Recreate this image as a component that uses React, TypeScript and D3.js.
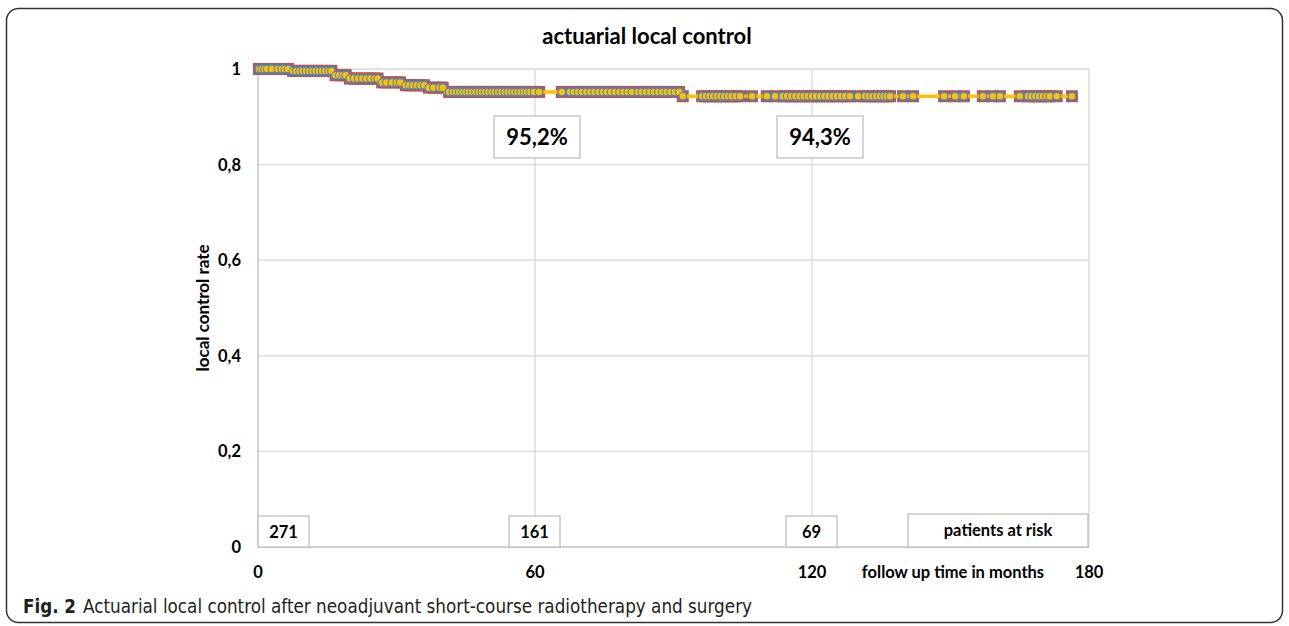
import React from "react";
import * as d3 from "d3";

// Kaplan-Meier event steps (months, local control after event)
const eventTimes = [0, 6.9, 16.3, 19.4, 26.2, 31.5, 36.5, 40.6, 91.8];
const eventValues = [1, 0.996, 0.987, 0.98, 0.972, 0.966, 0.961, 0.952, 0.943];

// censored observations (months)
const censorTimes = [
  0.2, 0.8, 1.4, 2.0, 3.0, 4.3, 5.1, 5.8, 6.5,
  7.6, 8.3, 9.0, 9.7, 10.4, 11.1, 11.8, 12.5, 13.2, 13.9, 14.6, 15.3, 15.9,
  16.8, 17.6, 18.4, 19.0,
  19.9, 20.8, 21.7, 22.6, 23.5, 24.4, 25.3, 25.9,
  26.9, 27.8, 29.0, 30.1, 30.8,
  32.0, 32.8, 33.6, 34.4, 35.2, 36.0,
  37.0, 38.0, 39.3, 40.0,
  41.4, 42.2, 42.9, 43.6, 44.3, 45.0, 45.7, 46.4, 47.1, 47.8, 48.5, 49.2, 49.9, 50.6,
  51.3, 52.0, 52.7, 53.4, 54.1, 54.8, 55.5, 56.2, 56.9, 57.6, 58.3, 59.0, 59.8, 60.9,
  65.8, 67.6, 68.4, 69.3, 70.2, 71.1, 72.0, 72.9, 73.8, 74.7, 75.6, 76.5, 77.4, 78.3,
  79.2, 80.1, 81.0, 82.3, 83.1, 84.0, 84.9, 85.8, 86.7, 87.6, 88.5, 89.4, 90.3, 91.2,
  92.0, 96.2, 97.0, 97.8, 98.6, 99.4, 100.2, 101.0, 101.8, 102.6, 103.5, 104.4,
  107.0, 110.2, 112.0, 113.7, 114.6, 115.5, 116.4, 117.3, 118.2, 119.1, 120.0, 120.9,
  121.8, 122.7, 123.6, 124.5, 125.4, 126.3, 127.2, 128.2, 130.0, 131.5, 132.3, 133.1,
  133.9, 134.7, 135.5, 136.2, 136.9, 139.7, 141.9,
  148.6, 151.0, 152.9,
  157.0, 159.2, 160.7,
  165.0, 166.8, 167.6, 168.4, 169.2, 170.0, 170.8, 171.5, 173.0,
  176.3,
];

const xTicks = [0, 60, 120, 180];
const xTickLabels = ["0", "60", "120", "180"];
const yTicks = [0, 0.2, 0.4, 0.6, 0.8, 1];
const yTickLabels = ["0", "0,2", "0,4", "0,6", "0,8", "1"];
const atRiskTimes = [0, 60, 120];
const atRiskCounts = ["271", "161", "69"];
const rateTimes = [60, 120];
const rateLabels = ["95,2%", "94,3%"];

const title = "actuarial local control";
const yTitle = "local control rate";
const xTitle = "follow up time in months";
const riskTitle = "patients at risk";
const captionBold = "Fig. 2";
const captionText = "Actuarial local control after neoadjuvant short-course radiotherapy and surgery";

const W = 1289;
const H = 626;
const FONT = "Lato, 'Open Sans', sans-serif";
const CAPFONT = "'Liberation Sans Narrow', 'DejaVu Sans Condensed', sans-serif";

export default function App() {
  const x = d3.scaleLinear().domain([0, 180]).range([258, 1089]);
  const y = d3.scaleLinear().domain([0, 1]).range([547, 69]);

  const valueAt = (t: number) => {
    let v = eventValues[0];
    for (let i = 0; i < eventTimes.length; i++) if (eventTimes[i] <= t) v = eventValues[i];
    return v;
  };

  const allTimes = Array.from(new Set([...eventTimes, ...censorTimes])).sort((a, b) => a - b);
  const linePts: [number, number][] = allTimes.map((t) => [t, valueAt(t)]);
  const line = d3
    .line<[number, number]>()
    .x((d) => x(d[0]))
    .y((d) => y(d[1]))
    .curve(d3.curveStepAfter);

  const grid = "#d9d9d9";
  const sq = 12;
  const lbl = 16.5;

  return (
    <svg
      width={W}
      height={H}
      style={{ position: "absolute", left: 0, top: 0, display: "block", background: "#fff" }}
    >
      <rect x={6.5} y={8.5} width={1276} height={614} rx={12} fill="#fff" stroke="#333" strokeWidth={1.5} />

      <text x={647} y={44} textAnchor="middle" fontFamily={FONT} fontWeight={700} fontSize={22} fill="#000">
        {title}
      </text>

      {/* gridlines */}
      {yTicks.filter((v) => v > 0).map((v) => (
        <line key={"gy" + v} x1={x(0)} x2={x(180)} y1={y(v)} y2={y(v)} stroke={grid} strokeWidth={1.3} />
      ))}
      {xTicks.filter((v) => v > 0).map((v) => (
        <line key={"gx" + v} x1={x(v)} x2={x(v)} y1={y(1)} y2={y(0)} stroke={grid} strokeWidth={1.3} />
      ))}
      <line x1={x(0)} x2={x(0)} y1={y(1)} y2={y(0)} stroke="#bfbfbf" strokeWidth={1.3} />
      <line x1={x(0)} x2={x(180)} y1={y(0)} y2={y(0)} stroke="#bfbfbf" strokeWidth={1.3} />

      {/* tick labels */}
      {yTicks.map((v, i) => (
        <text key={"yt" + v} x={241} y={y(v) + 6} textAnchor="end" fontFamily={FONT} fontWeight={700} fontSize={lbl} fill="#000">
          {yTickLabels[i]}
        </text>
      ))}
      {xTicks.map((v, i) => (
        <text key={"xt" + v} x={x(v)} y={578} textAnchor="middle" fontFamily={FONT} fontWeight={700} fontSize={lbl} fill="#000">
          {xTickLabels[i]}
        </text>
      ))}
      <text x={953} y={578} textAnchor="middle" fontFamily={FONT} fontWeight={700} fontSize={lbl} fill="#000">
        {xTitle}
      </text>
      <text
        transform={`translate(209,308) rotate(-90)`}
        textAnchor="middle"
        fontFamily={FONT}
        fontWeight={700}
        fontSize={17}
        fill="#000"
      >
        {yTitle}
      </text>

      {/* rate boxes */}
      {rateTimes.map((t, i) => (
        <g key={"rb" + t}>
          <rect x={x(t) - 43 + (i === 1 ? 8 : 2)} y={116} width={86} height={42} fill="#fff" stroke="#bfbfbf" strokeWidth={1.3} />
          <text x={x(t) + (i === 1 ? 8 : 2)} y={145} textAnchor="middle" fontFamily={FONT} fontWeight={700} fontSize={22} fill="#000">
            {rateLabels[i]}
          </text>
        </g>
      ))}

      {/* at-risk boxes */}
      {atRiskTimes.map((t, i) => (
        <g key={"ar" + t}>
          <rect
            x={i === 0 ? x(t) : x(t) - 26}
            y={516}
            width={51}
            height={31}
            fill="#fff"
            stroke="#bfbfbf"
            strokeWidth={1.3}
          />
          <text
            x={(i === 0 ? x(t) : x(t) - 26) + 25.5}
            y={538}
            textAnchor="middle"
            fontFamily={FONT}
            fontWeight={700}
            fontSize={lbl}
            fill="#000"
          >
            {atRiskCounts[i]}
          </text>
        </g>
      ))}
      <rect x={908} y={514} width={180} height={33} fill="#fff" stroke="#bfbfbf" strokeWidth={1.3} />
      <text x={998} y={536} textAnchor="middle" fontFamily={FONT} fontWeight={700} fontSize={lbl} fill="#000">
        {riskTitle}
      </text>

      {/* KM curve: square markers, line, circle markers */}
      {censorTimes.map((t, i) => (
        <rect
          key={"sq" + i}
          x={x(t) - sq / 2}
          y={y(valueAt(t)) - sq / 2}
          width={sq}
          height={sq}
          fill="#c0504d"
        />
      ))}
      {censorTimes.map((t, i) => (
        <rect
          key={"sqi" + i}
          x={x(t) - sq / 2 + 1.5}
          y={y(valueAt(t)) - sq / 2 + 1.5}
          width={sq - 3}
          height={sq - 3}
          fill="#4f81bd"
        />
      ))}
      <path d={line(linePts) || ""} fill="none" stroke="#ffc000" strokeWidth={3.5} />
      {censorTimes.map((t, i) => (
        <circle
          key={"c" + i}
          cx={x(t)}
          cy={y(valueAt(t))}
          r={3.8}
          fill="#ffc000"
          stroke="#4f81bd"
          strokeWidth={1.1}
        />
      ))}

      {/* caption */}
      <text x={23} y={613} fontFamily={CAPFONT} fontWeight={700} fontSize={20} fill="#231f20" textLength={53} lengthAdjust="spacingAndGlyphs">
        {captionBold}
      </text>
      <text x={83} y={613} fontFamily={CAPFONT} fontSize={20} fill="#231f20" textLength={669} lengthAdjust="spacingAndGlyphs">
        {captionText}
      </text>
    </svg>
  );
}
